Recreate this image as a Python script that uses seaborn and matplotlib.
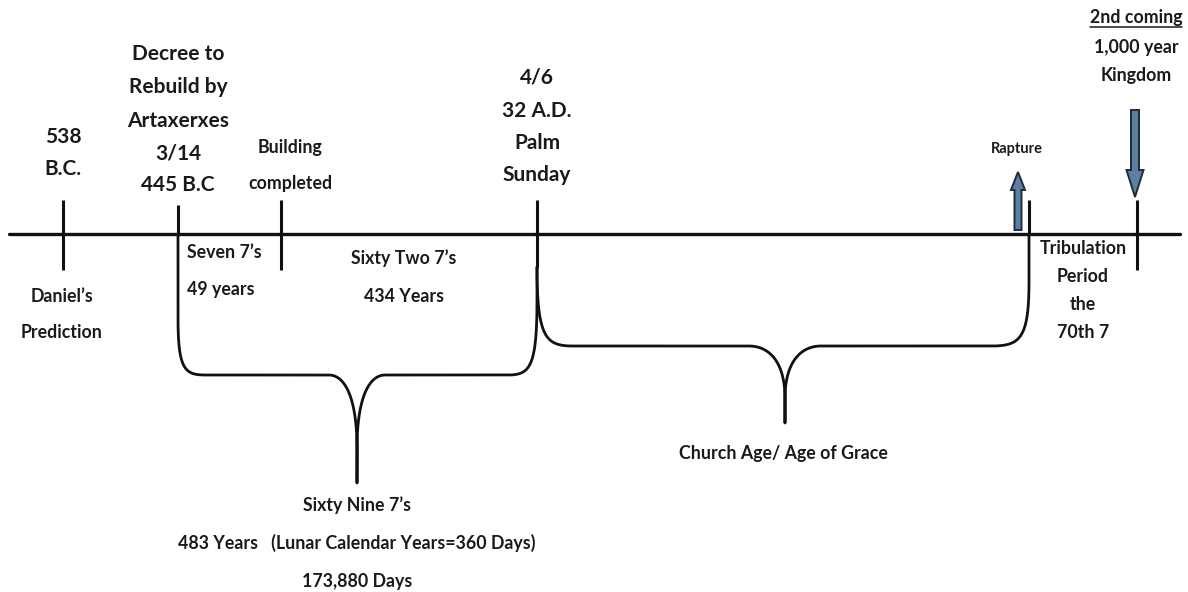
import numpy as np
import pandas as pd
import matplotlib
matplotlib.use("Agg")
import matplotlib.pyplot as plt
from matplotlib.patches import FancyArrow
import seaborn as sns

# ---------------- data ----------------
event_names = ["538 B.C.", "445 B.C", "Building completed", "32 A.D.", "Rapture", "2nd coming"]
event_pos = [63, 178, 281, 537, 1029, 1137]          # positions on the timeline scale
tick_top = [200, 205, 200, 200, 200, 200]
tick_bottom = [270, 234, 270, 268, 234, 270]

above_labels = [
    ["538", "B.C."],
    ["Decree to", "Rebuild by", "Artaxerxes", "3/14", "445 B.C"],
    ["Building", "completed"],
    ["4/6", "32 A.D.", "Palm", "Sunday"],
    ["Rapture"],
    ["2nd coming", "1,000 year", "Kingdom"],
]
below_labels = [
    ["Daniel\u2019s", "Prediction"],
    ["Seven 7\u2019s", "49 years"],
    ["Sixty Two 7\u2019s", "434 Years"],
    ["Tribulation", "Period", "the", "70th 7"],
]
brace_labels = [
    ["Sixty Nine 7\u2019s", "483 Years   (Lunar Calendar Years=360 Days)", "173,880 Days"],
    ["Church Age/ Age of Grace"],
]
# braces: span start / end events
brace_start = [178, 537]
brace_end = [537, 1029]

# ---------------- layout / style ----------------
sns.set_theme(style="white")
plt.rcParams["font.family"] = ["Lato", "DejaVu Sans"]

W, H = 1188, 592
fig = plt.figure(figsize=(W / 100, H / 100), dpi=100)
ax = fig.add_axes([0, 0, 1, 1])
ax.set_xlim(0, W)
ax.set_ylim(H, 0)
ax.axis("off")

LINE_Y = 234
INK = "#111111"

# main timeline
sns.lineplot(x=[9, 1180], y=[LINE_Y, LINE_Y], ax=ax, color=INK, lw=2.4,
             sort=False, estimator=None, legend=False)
# event ticks
ax.vlines(event_pos, tick_top, tick_bottom, color=INK, lw=2.2)


def bez(p0, p1, p2, p3, n=40):
    t = np.linspace(0, 1, n)[:, None]
    p0, p1, p2, p3 = map(np.array, (p0, p1, p2, p3))
    return ((1 - t) ** 3) * p0 + 3 * ((1 - t) ** 2) * t * p1 + 3 * (1 - t) * t ** 2 * p2 + t ** 3 * p3


def half_brace(xe, ytop, ystraight, rx, ry, yflat, xtip, ytip, tipw, direction):
    """Points from edge (xe, ytop) to the tip; direction=+1 for left half, -1 for right half."""
    d = direction
    pts = [np.array([[xe, ytop], [xe, ystraight]])]
    pts.append(bez((xe, ystraight), (xe, yflat - ry * 0.1), (xe + d * rx * 0.25, yflat),
                   (xe + d * rx, yflat)))
    pts.append(np.array([[xe + d * rx, yflat], [xtip - d * tipw, yflat]]))
    ymeet = yflat + (ytip - yflat) * 0.68
    pts.append(bez((xtip - d * tipw, yflat), (xtip - d * tipw * 0.45, yflat),
                   (xtip, yflat + (ytip - yflat) * 0.2), (xtip, ymeet)))
    pts.append(np.array([[xtip, ymeet], [xtip, ytip]]))
    return np.vstack(pts)


brace_geom = [
    # (ytop_l, ystraight_l, rx_l, ry_l, ytop_r, ystraight_r, rx_r, ry_r, yflat, xtip, ytip, tipw)
    (234, 318, 27, 57, 267, 300, 29, 75, 375, 357, 483, 28),
    (267, 267, 36, 79, 234, 282, 38, 64, 346, 785, 423, 36),
]
for xs, xe, g in zip(brace_start, brace_end, brace_geom):
    ytl, ysl, rxl, ryl, ytr, ysr, rxr, ryr, yf, xt, yt, tw = g
    left = half_brace(xs, ytl, ysl, rxl, ryl, yf, xt, yt, tw, +1)
    right = half_brace(xe, ytr, ysr, rxr, ryr, yf, xt, yt, tw, -1)[::-1]
    pts = np.vstack([left, right])
    df = pd.DataFrame({"x": pts[:, 0], "y": pts[:, 1]})
    sns.lineplot(data=df, x="x", y="y", ax=ax, color=INK, lw=2.0, sort=False,
                 estimator=None, legend=False)

# arrows (Rapture up, 2nd coming down)
arrow_fc = "#5f7fa0"
arrow_ec = "#1d2b3b"
ax.add_patch(FancyArrow(1018, 230, 0, -58, width=7, head_width=14, head_length=18,
                        length_includes_head=True, fc=arrow_fc, ec=arrow_ec, lw=1.4))
ax.add_patch(FancyArrow(1135, 110, 0, 87, width=8, head_width=17, head_length=27,
                        length_includes_head=True, fc=arrow_fc, ec=arrow_ec, lw=1.4))


def put(lines, x, ys, size, ha="center"):
    for s, y in zip(lines, ys):
        ax.text(x, y, s, ha=ha, va="center", fontsize=size, fontweight="bold", color="#1a1a1a")


BIG = 15
MID = 12.8
SMALL = 10.5
# above-line labels
put(above_labels[0], 63, [137, 169], BIG)
put(above_labels[1], 178, [54, 87, 121, 154, 185], BIG)
put(above_labels[2], 290, [147, 183], MID)
put(above_labels[3], 537, [77, 111, 143, 175], BIG)
put(above_labels[4], 1017, [149], SMALL)
put(above_labels[5], 1136, [18, 47, 75], MID)
ax.plot([1090, 1182], [27, 27], color="#1a1a1a", lw=1.1)

# below-line labels
put(below_labels[0], 62, [296, 333], MID)
put(below_labels[1], 187, [253, 290], MID, ha="left")
put(below_labels[2], 404, [258, 296], MID)
put(below_labels[3], 1083, [248, 277, 305, 333], MID)

# brace labels
put(brace_labels[0], 357, [505, 543, 582], MID)
put(brace_labels[1], 783, [453], MID)

fig.savefig("out.png", dpi=100, facecolor="white")
